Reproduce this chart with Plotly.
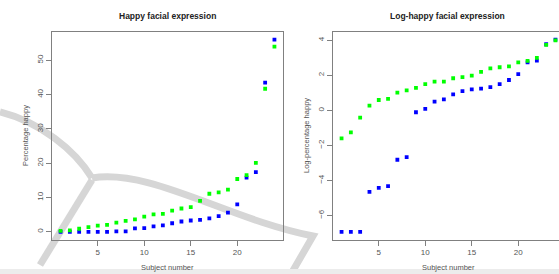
import plotly.graph_objects as go

# ---- data ----
subjects = list(range(1, 25))

# Left panel: percentage happy
pct_blue = [0, 0, 0, 0, 0, 0, 0.1, 0.15, 1.0, 1.1, 1.6, 1.9, 2.5, 3.0, 3.3, 3.5,
            3.9, 4.6, 5.6, 8.0, 15.8, 17.4, 43.5, 56.0]
pct_green = [0.3, 0.4, 0.9, 1.35, 1.8, 2.0, 2.7, 3.2, 3.6, 4.4, 5.1, 5.2, 6.2, 6.8,
             7.2, 9.0, 11.1, 11.5, 12.3, 15.4, 16.5, 20.1, 41.7, 54.0]

# Right panel: log-percentage happy
log_blue = [-6.93, -6.93, -6.93, -4.65, -4.42, -4.32, -2.82, -2.67, -0.11, 0.08, 0.50,
            0.63, 0.91, 1.10, 1.20, 1.24, 1.33, 1.50, 1.73, 2.07, 2.74, 2.84, 3.77, 4.03]
log_green = [-1.60, -1.26, -0.42, 0.27, 0.59, 0.65, 1.01, 1.14, 1.28, 1.50, 1.64, 1.64,
             1.83, 1.90, 1.98, 2.19, 2.40, 2.46, 2.51, 2.74, 2.82, 2.99, 3.73, 3.99]

x_ticks = [5, 10, 15, 20]
y1_ticks = [0, 10, 20, 30, 40, 50]
y2_ticks = [-6, -4, -2, 0, 2, 4]

W, H = 559, 274
BLUE = "#0000FF"
GREEN = "#00FF00"


def px(x):
    return x / W


def py(y):
    return 1 - y / H


fig = go.Figure()
mk = dict(symbol="square", size=3.8, line=dict(width=0))
fig.add_trace(go.Scatter(x=subjects, y=pct_blue, mode="markers", marker=dict(color=BLUE, **mk),
                         xaxis="x", yaxis="y", showlegend=False))
fig.add_trace(go.Scatter(x=subjects, y=pct_green, mode="markers", marker=dict(color=GREEN, **mk),
                         xaxis="x", yaxis="y", showlegend=False))
fig.add_trace(go.Scatter(x=subjects, y=log_blue, mode="markers", marker=dict(color=BLUE, **mk),
                         xaxis="x2", yaxis="y2", showlegend=False))
fig.add_trace(go.Scatter(x=subjects, y=log_green, mode="markers", marker=dict(color=GREEN, **mk),
                         xaxis="x2", yaxis="y2", showlegend=False))

FONT = "Liberation Sans, Arial, sans-serif"
AXC = "#808080"
TXC = "#555555"
ydom = [py(239.5), py(32)]

common_x = dict(showline=True, linecolor=AXC, linewidth=1, ticks="outside", ticklen=5,
                tickcolor=AXC, tickwidth=1, showgrid=False, zeroline=False,
                tickfont=dict(family=FONT, size=8, color=TXC), tickvals=x_ticks)
common_y = dict(showline=True, linecolor=AXC, linewidth=1, ticks="outside", ticklen=5,
                tickcolor=AXC, tickwidth=1, showgrid=False, zeroline=False,
                tickfont=dict(family=FONT, size=8, color=TXC), tickangle=-90)

fig.update_layout(
    width=W, height=H, margin=dict(l=0, r=0, t=0, b=0),
    paper_bgcolor="white", plot_bgcolor="rgba(0,0,0,0)",
    xaxis=dict(domain=[px(52), px(283)], range=[0.08, 24.92], mirror=True, anchor="y", **common_x),
    yaxis=dict(domain=ydom, range=[-2.24, 58.24], mirror=True, anchor="x", tickvals=y1_ticks, **common_y),
    xaxis2=dict(domain=[px(333), 1], range=[0.08, 24.38], mirror=True, anchor="y2", **common_x),
    yaxis2=dict(domain=ydom, range=[-7.37, 4.47], mirror=False, anchor="x2", tickvals=y2_ticks, **common_y),
)

# titles & axis labels
ann = []
ann.append(dict(text="<b>Happy facial expression</b>", x=px(167.5), y=py(15.7)))
ann.append(dict(text="<b>Log-happy facial expression</b>", x=px(447), y=py(15.7)))
for a in ann:
    a.update(font=dict(family=FONT, size=8.5, color="#222222"))
lab = dict(font=dict(family=FONT, size=7.5, color=TXC))
ann.append(dict(text="Subject number", x=px(167.5), y=py(267.5), **lab))
ann.append(dict(text="Subject number", x=px(448), y=py(267.5), **lab))
ann.append(dict(text="Percentage happy", x=px(25), y=py(136), textangle=-90, **lab))
ann.append(dict(text="Log-percentage happy", x=px(306), y=py(136), textangle=-90, **lab))
for a in ann:
    a.update(xref="paper", yref="paper", showarrow=False, xanchor="center", yanchor="middle")
fig.update_layout(annotations=ann)


# decorative grey watermark strokes (scan artefact in the reference)
def path(cmds):
    out = []
    for c in cmds:
        if isinstance(c, str):
            out.append(c)
        else:
            out.append(f"{px(c[0]):.5f},{py(c[1]):.5f}")
    return " ".join(out)


wm = dict(type="path", xref="paper", yref="paper", layer="below",
          line=dict(color="#d6d6d6", width=7))
shapes = [
    dict(path=path(["M", (0, 112), "C", (40, 122), (75, 150), (92, 178)]), **wm),
    dict(path=path(["M", (92, 178), "C", (150, 168), (230, 220), (313, 236), "L", (291, 274)]), **wm),
    dict(path=path(["M", (92, 180), "L", (40, 265)]), **wm),
    dict(type="rect", xref="paper", yref="paper", layer="below",
         x0=0, x1=1, y0=0, y1=py(269), line=dict(width=0), fillcolor="#ececec"),
]
fig.update_layout(shapes=shapes)

fig.write_html("out.html", config={"displayModeBar": False},
               post_script="document.body.style.margin='0px';document.body.style.overflow='hidden';")
